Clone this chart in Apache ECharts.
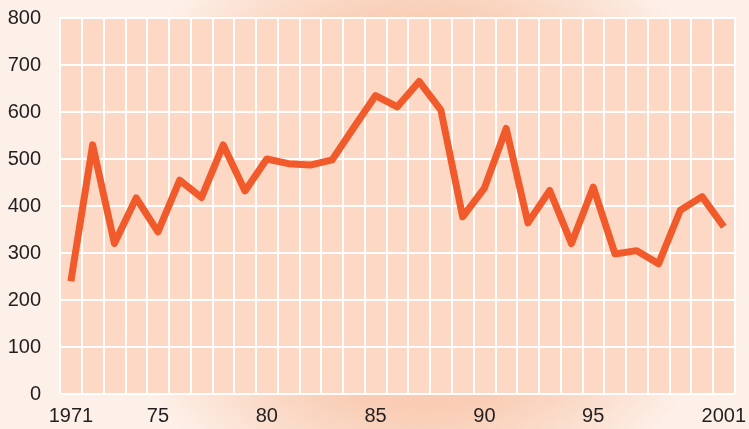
<!DOCTYPE html>
<html>
<head>
<meta charset="utf-8">
<script src="https://cdn.jsdelivr.net/npm/echarts@6/dist/echarts.min.js"></script>
<style>
  html, body { margin: 0; padding: 0; }
  #chart { width: 749px; height: 429px; }
</style>
</head>
<body>
<div id="chart"></div>
<script>
// years on the x axis
const years = [
  "1971", "1972", "1973", "1974", "1975", "1976", "1977", "1978", "1979", "1980",
  "1981", "1982", "1983", "1984", "1985", "1986", "1987", "1988", "1989", "1990",
  "1991", "1992", "1993", "1994", "1995", "1996", "1997", "1998", "1999", "2000", "2001"
];
// values
const values = [
  240, 530, 320, 417, 345, 455, 418, 530, 432, 500,
  490, 487, 498, 567, 635, 611, 665, 604, 377, 438,
  565, 364, 433, 320, 440, 298, 305, 277, 391, 420, 356
];
// which years get a tick label, and the text shown
const tickLabels = {
  "1971": "1971", "1975": "75", "1980": "80", "1985": "85",
  "1990": "90", "1995": "95", "2001": "2001"
};

const chart = echarts.init(document.getElementById("chart"));
const font = "Liberation Sans, Arial, sans-serif";

chart.setOption({
  animation: false,
  backgroundColor: {
    type: "radial",
    x: 0.56, y: 0.5, r: 0.75,
    colorStops: [
      { offset: 0, color: "#f7c0a2" },
      { offset: 0.6, color: "#f9cdb4" },
      { offset: 1, color: "#fdf0e8" }
    ]
  },
  grid: {
    left: 60,
    top: 18,
    right: 10,
    bottom: 35,
    show: true,
    backgroundColor: "#fdd9c5",
    borderWidth: 0
  },
  xAxis: {
    type: "category",
    data: years,
    boundaryGap: true,
    axisLine: { show: false },
    axisTick: { show: false },
    splitLine: { show: true, interval: 0, lineStyle: { color: "#ffffff", width: 2 } },
    axisLabel: {
      interval: (i, v) => tickLabels[v] !== undefined,
      formatter: (v) => tickLabels[v],
      color: "#231f20",
      fontSize: 20,
      fontFamily: font,
      margin: 12
    }
  },
  yAxis: {
    type: "value",
    min: 0,
    max: 800,
    interval: 100,
    axisLine: { show: false },
    axisTick: { show: false },
    splitLine: { lineStyle: { color: "#ffffff", width: 2 } },
    axisLabel: {
      color: "#231f20",
      fontSize: 20,
      fontFamily: font,
      margin: 19
    }
  },
  series: [
    {
      type: "line",
      data: values,
      symbol: "none",
      lineStyle: { color: "#f15a2b", width: 7, join: "round" }
    }
  ]
});
</script>
</body>
</html>
